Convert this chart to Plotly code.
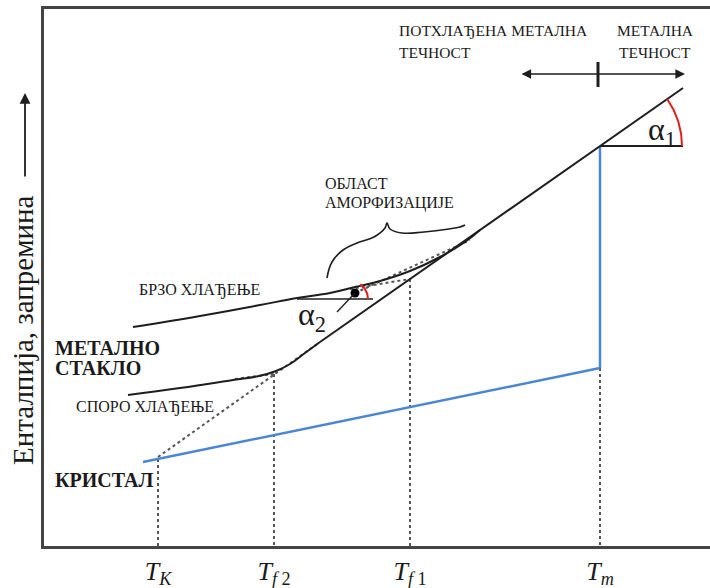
import numpy as np
import plotly.graph_objects as go

# ---- schematic data (arbitrary units: temperature T, enthalpy H) ----
tick_vals = [114, 230, 366, 556]
tick_text = ["<i>T</i><sub><i>K</i></sub>", "<i>T</i><sub><i>f</i> 2</sub>",
             "<i>T</i><sub><i>f</i> 1</sub>", "<i>T</i><sub><i>m</i></sub>"]

crystal_T = [99, 556]
crystal_H = [84, 178]
melt_jump_T = [556, 556]
melt_jump_H = [178, 400]

liquid_T = [276, 556, 639]
liquid_H = [204, 400, 458]

slow_T = [84, 136, 189, 215, 232, 246, 261, 276]
slow_H = [151, 158, 166, 170, 175, 182, 193, 204]

fast_T = [89, 156, 216, 253, 286, 311, 336, 366, 396, 421, 436]
fast_H = [219, 230, 241, 248, 253, 259, 265, 275, 289, 304, 316]

# dotted construction lines (pairs of points)
dotted_T = [[114, 276], [191, 230], [114, 114], [230, 230], [366, 366],
            [556, 556], [306, 366], [311, 426]]
dotted_H = [[89, 204], [167, 172], [87, 0], [172, 0], [267, 0],
            [178, 0], [257, 267], [253, 306]]

brace_T = [283, 288, 299, 313, 330, 341, 343, 346, 358, 380, 405, 416, 421]
brace_H = [268, 284, 296, 303, 309, 318, 323, 317, 313, 314, 317, 319, 321]

alpha2_point = (311, 253)
alpha2_base_T = [253, 329]
alpha2_base_H = [247, 247]
alpha1_base_T = [556, 639]
alpha1_base_H = [400, 400]
alpha1_arc = dict(c=(556, 400), r=82, a0=0, a1=35)
alpha2_arc = dict(c=(306, 247), r=18, a0=0, a1=55)

X_RANGE = [0, 666]
Y_RANGE = [0, 537]

BLACK = "#1e1e1e"
BLUE = "#4a86d4"
RED = "#e0201c"
GREY = "#444444"
SERIF = "Liberation Serif"

fig = go.Figure()

def line(x, y, color=BLACK, width=2, dash=None, shape="linear"):
    fig.add_trace(go.Scatter(x=x, y=y, mode="lines", hoverinfo="skip",
                             line=dict(color=color, width=width, dash=dash, shape=shape,
                                       smoothing=1.2 if shape == "spline" else None),
                             showlegend=False))

for xs, ys in zip(dotted_T, dotted_H):
    line(xs, ys, color="#555555", width=2, dash="dot")

line(crystal_T, crystal_H, color=BLUE, width=2.5)
line(melt_jump_T, melt_jump_H, color=BLUE, width=2.5)
line(liquid_T, liquid_H, width=2)
line(slow_T, slow_H, width=2, shape="spline")
line(fast_T, fast_H, width=2, shape="spline")
line(brace_T, brace_H, width=1.6, shape="spline")
line(alpha1_base_T, alpha1_base_H, width=1.8)
line(alpha2_base_T, alpha2_base_H, width=1.6)

for arc in (alpha1_arc, alpha2_arc):
    ang = np.radians(np.linspace(arc["a0"], arc["a1"], 40))
    line(arc["c"][0] + arc["r"] * np.cos(ang), arc["c"][1] + arc["r"] * np.sin(ang),
         color=RED, width=2)

fig.add_trace(go.Scatter(x=[alpha2_point[0]], y=[alpha2_point[1]], mode="markers",
                         marker=dict(color="black", size=9), hoverinfo="skip",
                         showlegend=False))
line([293, alpha2_point[0]], [234, alpha2_point[1]], width=1.3)

def text(x, y, s, size=16, bold=False, anchor="left", **kw):
    fig.add_annotation(x=x, y=y, xref="x", yref="y", text=f"<b>{s}</b>" if bold else s,
                       showarrow=False, xanchor=anchor, yanchor="middle",
                       font=dict(family=SERIF, size=size, color="#1a1a1a"), **kw)

text(353, 516, "ПОТХЛАЂЕНА МЕТАЛНА", size=15.5)
text(353, 494, "ТЕЧНОСТ", size=15.5)
text(611, 516, "МЕТАЛНА", size=15.5, anchor="center")
text(611, 494, "ТЕЧНОСТ", size=15.5, anchor="center")
text(279, 363, "ОБЛАСТ")
text(279, 343, "АМОРФИЗАЦИЈЕ")
text(93, 256, "БРЗО ХЛАЂЕЊЕ")
text(9, 198, "МЕТАЛНО", size=20, bold=True)
text(9, 178, "СТАКЛО", size=20, bold=True)
text(30, 139, "СПОРО ХЛАЂЕЊЕ")
text(9, 66, "КРИСТАЛ", size=20, bold=True)
text(618, 415, "α<sub>1</sub>", size=32, anchor="center")
text(268, 230, "α<sub>2</sub>", size=32, anchor="center")

# y-axis title and arrow, placed in paper coordinates left of the plot
def px(v):
    return (v - X_RANGE[0]) / (X_RANGE[1] - X_RANGE[0])

def py(v):
    return (v - Y_RANGE[0]) / (Y_RANGE[1] - Y_RANGE[0])

fig.add_annotation(x=px(-21), y=py(216), xref="paper", yref="paper",
                   text="Енталпија, запремина", showarrow=False, textangle=-90,
                   xanchor="center", yanchor="middle",
                   font=dict(family=SERIF, size=29, color="#1a1a1a"))
fig.add_annotation(x=px(-19), y=py(453), xref="paper", yref="paper",
                   ax=0, ay=85, text="", showarrow=True, arrowhead=2, arrowsize=1.2,
                   arrowwidth=1.8, arrowcolor=BLACK)

# double arrow with tick
fig.add_annotation(x=641, y=472, ax=476, ay=472, xref="x", yref="y", axref="x", ayref="y",
                   text="", showarrow=True, arrowhead=2, arrowside="end+start",
                   arrowsize=1.2, arrowwidth=1.6, arrowcolor=BLACK)
line([554, 554], [459, 484], width=3)

fig.update_layout(
    width=710, height=588, margin=dict(l=44, r=0, t=9, b=42),
    plot_bgcolor="white", paper_bgcolor="white", showlegend=False,
    xaxis=dict(range=X_RANGE, showgrid=False, zeroline=False, showline=True,
               mirror=True, linecolor=GREY, linewidth=2.5, tickvals=tick_vals,
               ticktext=tick_text, ticks="", ticklabelstandoff=0,
               tickfont=dict(family=SERIF, size=26, color="#1a1a1a"), fixedrange=True),
    yaxis=dict(range=Y_RANGE, showgrid=False, zeroline=False, showline=True,
               mirror=False, linecolor=GREY, linewidth=2.5, showticklabels=False,
               ticks="", fixedrange=True),
)

fig.write_html("out.html", config={"displayModeBar": False},
               post_script="document.body.style.margin='0';")
